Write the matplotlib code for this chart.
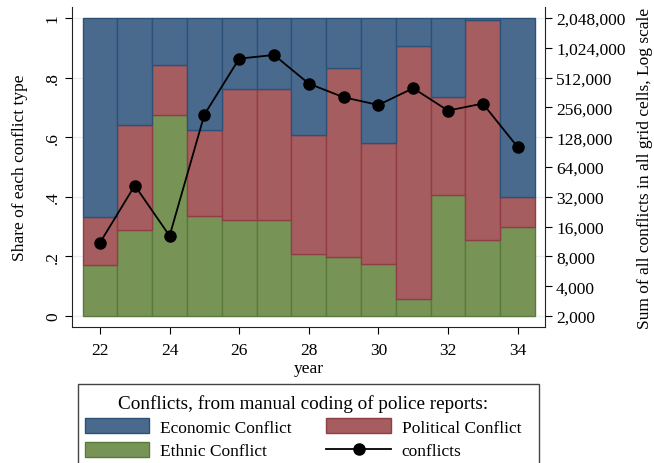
import numpy as np
import matplotlib
matplotlib.use("Agg")
import matplotlib.pyplot as plt
from matplotlib.patches import Patch, Rectangle
from matplotlib.lines import Line2D
from matplotlib.ticker import FixedLocator, FuncFormatter

plt.rcParams['font.family'] = ['Liberation Serif', 'DejaVu Serif']
plt.rcParams['font.size'] = 12.5

years = np.arange(22, 35)
ethnic = [0.172, 0.288, 0.675, 0.335, 0.322, 0.322, 0.208, 0.198, 0.174, 0.058, 0.407, 0.255, 0.299]
political = [0.159, 0.354, 0.167, 0.288, 0.440, 0.440, 0.400, 0.633, 0.407, 0.847, 0.327, 0.738, 0.100]
economic = [0.669, 0.358, 0.158, 0.377, 0.238, 0.238, 0.392, 0.169, 0.419, 0.095, 0.266, 0.007, 0.601]
conflicts = [11000, 41600, 12900, 216600, 795600, 867000, 445000, 324000, 271000, 400000, 237700, 279800, 102000]

blue, blue_e = '#4a6a8d', '#2b5179'
red, red_e = '#a65d60', '#913d45'
green, green_e = '#789356', '#5a7a3b'

W, H = 654, 464
fig = plt.figure(figsize=(W / 100, H / 100), dpi=100)
ax = fig.add_axes([72 / W, (H - 328) / H, (545 - 72) / W, (328 - 8) / H])

ethnic = np.array(ethnic)
political = np.array(political)
economic = np.array(economic)

# stacked shares, one bar per year
ax.bar(years, ethnic, width=1.0, color=green, edgecolor=green_e, linewidth=1, zorder=2)
ax.bar(years, political, bottom=ethnic, width=1.0, color=red, edgecolor=red_e, linewidth=1, zorder=2)
ax.bar(years, economic, bottom=ethnic + political, width=1.0, color=blue, edgecolor=blue_e, linewidth=1, zorder=2)

pad = 11 / 298.3
ax.set_ylim(-pad, 1 + pad)
ax.set_xlim(22 - 28 / 34.8, 22 + 445 / 34.8)
ax.set_yticks([0, 0.2, 0.4, 0.6, 0.8, 1.0])
ax.set_yticklabels(['0', '.2', '.4', '.6', '.8', '1'], rotation=90, va='center')
ax.set_xticks(range(22, 35, 2))
ax.set_xlabel('year', labelpad=1)
ax.set_ylabel('Share of each conflict type', labelpad=12)
ax.grid(axis='y', color='#e8f0f2', linewidth=1, zorder=0)
ax.set_axisbelow(True)
ax.tick_params(axis='y', length=5, pad=3)
ax.tick_params(axis='x', length=5, pad=6)
ax.spines['top'].set_visible(False)
ax.spines['right'].set_visible(False)
for s in ['left', 'bottom']:
    ax.spines[s].set_color('#222222')

# total count on a log2 axis
ax2 = ax.twinx()
ax2.set_yscale('log', base=2)
lpad = 11 / 29.83
ax2.set_ylim(2000 * 2 ** (-lpad), 2048000 * 2 ** lpad)
rticks = [2000 * 2 ** k for k in range(11)]
ax2.yaxis.set_major_locator(FixedLocator(rticks))
ax2.yaxis.set_minor_locator(FixedLocator([]))
ax2.yaxis.set_major_formatter(FuncFormatter(lambda v, p: f'{int(round(v)):,}'))
ax2.plot(years, conflicts, color='black', linewidth=1.3, marker='o', markersize=8, zorder=3)
ax2.set_ylabel('Sum of all conflicts in all grid cells, Log scale', labelpad=8)
ax2.tick_params(axis='y', length=5, pad=3)
ax2.spines['top'].set_visible(False)
ax2.spines['left'].set_visible(False)
ax2.spines['bottom'].set_visible(False)
ax2.spines['right'].set_color('#222222')

handles = [Patch(facecolor=blue, edgecolor=blue_e),
           Patch(facecolor=green, edgecolor=green_e),
           Patch(facecolor=red, edgecolor=red_e),
           Line2D([], [], color='black', linewidth=1.3, marker='o', markersize=8)]
labels = ['Economic Conflict', 'Ethnic Conflict', 'Political Conflict', 'conflicts']
leg = fig.legend(handles, labels, ncol=2, loc='upper center',
                 bbox_to_anchor=(303 / W, 1 - 395 / H), frameon=False,
                 title='Conflicts, from manual coding of police reports:',
                 title_fontsize=13.8, handlelength=3.7, handleheight=1.0,
                 handletextpad=0.63, columnspacing=2.0, labelspacing=0.35,
                 borderpad=0, borderaxespad=0)

fig.patches.append(Rectangle((78 / W, -0.05), (539 - 78) / W, (H - 385) / H + 0.05,
                             transform=fig.transFigure, fill=False,
                             edgecolor='#444444', linewidth=1))

fig.savefig('out.png', dpi=100)
